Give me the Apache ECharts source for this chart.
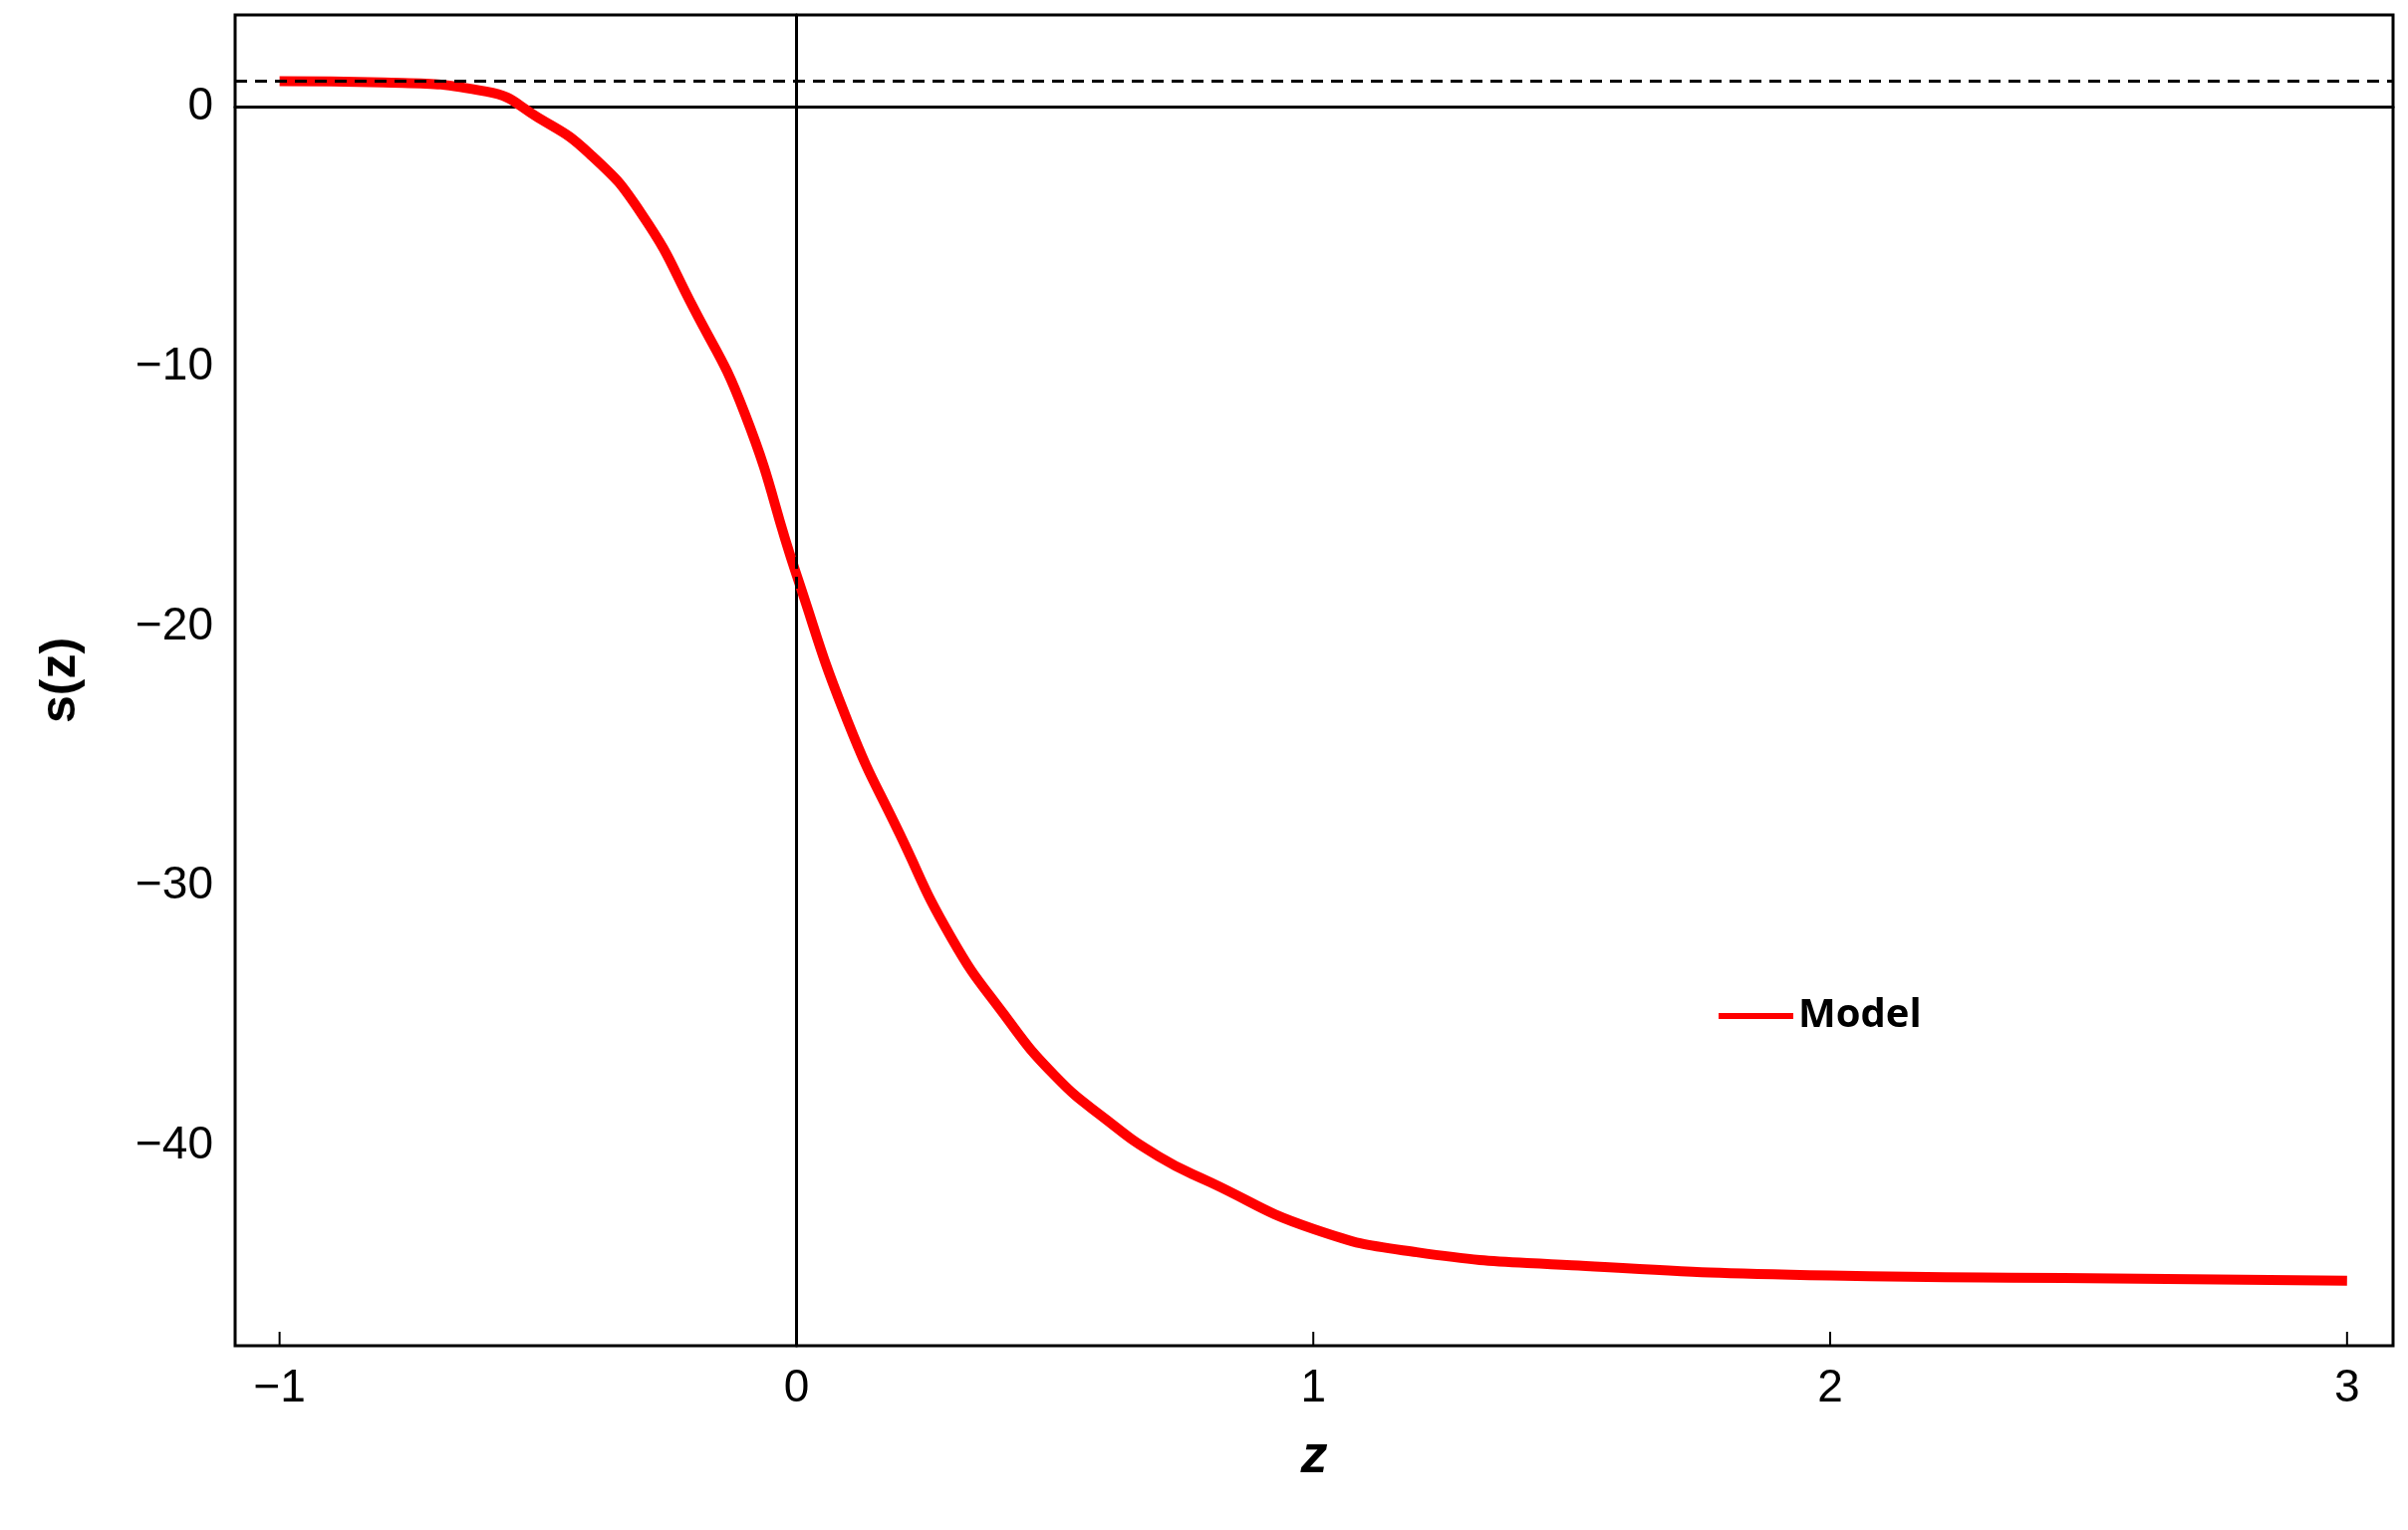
<!DOCTYPE html>
<html>
<head>
<meta charset="UTF-8">
<title>s(z)</title>
<script src="https://cdn.jsdelivr.net/npm/echarts@6/dist/echarts.min.js"></script>
<style>html,body{margin:0;background:#fff}</style>
</head>
<body>
<div id="main" style="width:2417px;height:1536px;"></div>
<script type="text/javascript">
var zValues = [-1, -0.8, -0.6, -0.5, -0.4, -0.3, -0.2, -0.1, 0, 0.1, 0.2, 0.3, 0.4, 0.5, 0.6, 0.7, 0.8, 1.0, 1.2, 1.5, 2.0, 2.5, 3.0];
var sValues = [1.0, 0.95, 0.6, -0.4, -1.8, -4.1, -7.7, -11.8, -18.0, -23.7, -28.0, -32.0, -34.9, -37.3, -39.0, -40.4, -41.4, -43.2, -44.1, -44.6, -45.0, -45.1, -45.2];
var xTicks = [-1, 0, 1, 2, 3];
var yTicks = [0, -10, -20, -30, -40];

var myChart = echarts.init(document.getElementById('main'));
var font = 'Liberation Sans';
var option = {
  animation: false,
  grid: { left: 236, right: 15, top: 15, bottom: 185 },
  legend: {
    left: 1720, top: 995, itemWidth: 75, itemHeight: 6, itemGap: 0,
    icon: 'rect',
    textStyle: { fontFamily: 'Open Sans', fontWeight: 'bold', fontSize: 40, color: '#000' },
    data: ['Model']
  },
  xAxis: {
    type: 'value', min: -1.086, max: 3.089,
    name: 'z', nameLocation: 'middle', nameGap: 85,
    nameTextStyle: { fontFamily: font, fontStyle: 'italic', fontWeight: 'bold', fontSize: 54, color: '#000' },
    axisLine: { lineStyle: { color: '#000', width: 3 } },
    axisTick: { show: false },
    splitLine: { show: false },
    axisLabel: {
      fontFamily: font, fontSize: 46, color: '#000', margin: 20,
      customValues: xTicks,
      formatter: function (v) { return v < 0 ? '\u2212' + Math.abs(v) : String(v); }
    }
  },
  yAxis: {
    type: 'value', min: -47.7, max: 3.55,
    name: 's(z)', nameLocation: 'middle', nameGap: 150,
    nameTextStyle: { fontFamily: font, fontWeight: 'bold', fontSize: 50, color: '#000' },
    axisLine: { lineStyle: { color: '#000', width: 3 } },
    axisTick: { show: false },
    splitLine: { show: false },
    axisLabel: {
      fontFamily: font, fontSize: 46, color: '#000', margin: 22,
      customValues: yTicks,
      formatter: function (v) { return v < 0 ? '\u2212' + Math.abs(v) : String(v); }
    }
  },
  series: [
    {
      name: 'frame', type: 'line', data: [], silent: true,
      markLine: {
        symbol: 'none', silent: true, label: { show: false },
        lineStyle: { color: '#000', type: [12, 8], width: 3 },
        data: [{ yAxis: 1 }, { xAxis: 0 }]
      }
    },
    {
      name: 'Model', type: 'line', smooth: true, showSymbol: false,
      lineStyle: { color: '#ff0000', width: 10 }, itemStyle: { color: '#ff0000' },
      data: zValues.map(function (z, i) { return [z, sValues[i]]; })
    }
  ],
  graphic: [{
    type: 'rect', shape: { x: 236, y: 15, width: 2166, height: 1336 },
    style: { fill: 'none', stroke: '#000', lineWidth: 3 }, silent: true
  }].concat(xTicks.map(function (t) {
    return { type: 'line', shape: { x1: 0, y1: 0, x2: 0, y2: -14 }, style: { stroke: '#000', lineWidth: 2 },
      position: [236 + (t + 1.086) / 4.175 * 2166, 1351] };
  }))
};
myChart.setOption(option);
</script>
</body>
</html>
